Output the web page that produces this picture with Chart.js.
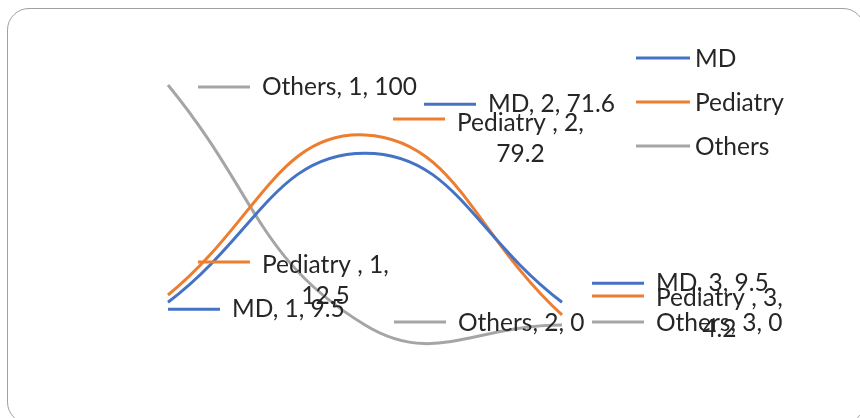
<!DOCTYPE html>
<html>
<head>
<meta charset="utf-8">
<script src="https://cdn.jsdelivr.net/npm/chart.js@4"></script>
<style>
  html, body { margin: 0; padding: 0; background: #fff; }
  #wrap { position: relative; width: 860px; height: 418px; overflow: hidden; }
  #frame { position: absolute; left: 7px; top: 8px; width: 858px; height: 416px;
           border: 1.5px solid #a0a0a0; border-radius: 22px; box-sizing: border-box; }
  canvas { position: absolute; left: 0; top: 0; }
</style>
</head>
<body>
<div id="wrap">
  <div id="frame"></div>
  <canvas id="c" width="860" height="418"></canvas>
</div>
<script>
// ---- data ----
const categories = ['1', '2', '3'];
const mdValues = [9.5, 71.6, 9.5];
const pediatryValues = [12.5, 79.2, 4.2];
const othersValues = [100, 0, 0];
const seriesNames = ['MD', 'Pediatry', 'Others'];
const labelNames = ['MD', 'Pediatry ', 'Others'];

const colors = ['#4472C4', '#ED7D31', '#A5A5A5'];
const FONT = '24.5px Lato';
const TEXT_COLOR = '#262626';

// label placements (relative to the point): leader start dx, leader dy, text dy, wrap
const placements = [
  // MD
  [{dx: 0, ly: 7, ty: 7, wrap: false}, {dx: 59, ly: -49, ty: -49, wrap: false}, {dx: 30, ly: -19, ty: -19, wrap: false}],
  // Pediatry
  [{dx: 30, ly: -33, ty: -30, wrap: true}, {dx: 28, ly: -16, ty: -12, wrap: true}, {dx: 30, ly: -19, ty: -17, wrap: true}],
  // Others
  [{dx: 30, ly: 2, ty: 2, wrap: false}, {dx: 29, ly: -3, ty: -2, wrap: false}, {dx: 30, ly: -3, ty: -2, wrap: false}]
];

const labelPlugin = {
  id: 'excelLabels',
  afterDatasetsDraw(chart) {
    const ctx = chart.ctx;
    ctx.save();
    ctx.font = FONT;
    ctx.textBaseline = 'middle';
    ctx.fillStyle = TEXT_COLOR;
    chart.data.datasets.forEach((ds, di) => {
      const meta = chart.getDatasetMeta(di);
      meta.data.forEach((pt, i) => {
        const p = placements[di][i];
        const x0 = pt.x + p.dx;
        const ly = pt.y + p.ly;
        ctx.strokeStyle = colors[di];
        ctx.lineWidth = 3;
        ctx.beginPath();
        ctx.moveTo(x0, ly);
        ctx.lineTo(x0 + 52, ly);
        ctx.stroke();
        const tx = x0 + 64;
        const ty = pt.y + p.ty;
        const cat = chart.data.labels[i];
        const val = ds.data[i];
        ctx.textAlign = 'left';
        if (p.wrap) {
          const l1 = labelNames[di] + ', ' + cat + ',';
          const w1 = ctx.measureText(l1).width;
          ctx.fillText(l1, tx, ty);
          ctx.textAlign = 'center';
          ctx.fillText(String(val), tx + w1 / 2, ty + 31);
        } else {
          ctx.fillText(labelNames[di] + ', ' + cat + ', ' + val, tx, ty);
        }
      });
    });
    // legend
    const lx = 636, ly0 = 58, step = 44;
    ctx.textAlign = 'left';
    chart.data.datasets.forEach((ds, di) => {
      const y = ly0 + di * step;
      ctx.strokeStyle = colors[di];
      ctx.lineWidth = 3;
      ctx.beginPath();
      ctx.moveTo(lx, y);
      ctx.lineTo(lx + 54, y);
      ctx.stroke();
      ctx.fillStyle = TEXT_COLOR;
      ctx.fillText(ds.label, lx + 59, y + 1);
    });
    ctx.restore();
  }
};

function makeDataset(label, data, color) {
  return {
    label: label,
    data: data,
    borderColor: color,
    backgroundColor: color,
    borderWidth: 3,
    pointRadius: 0,
    fill: false,
    tension: 0.45,
    clip: false
  };
}

document.fonts.load(FONT).finally(() => {
  new Chart(document.getElementById('c'), {
    type: 'line',
    data: {
      labels: categories,
      datasets: [
        makeDataset(seriesNames[0], mdValues, colors[0]),
        makeDataset(seriesNames[1], pediatryValues, colors[1]),
        makeDataset(seriesNames[2], othersValues, colors[2])
      ]
    },
    options: {
      responsive: false,
      animation: false,
      devicePixelRatio: 1,
      layout: { padding: { left: 168, right: 298, top: 85, bottom: 93 } },
      elements: { line: { capBezierPoints: false } },
      scales: {
        x: { type: 'category', offset: false, display: false },
        y: { min: 0, max: 100, display: false }
      },
      plugins: { legend: { display: false }, tooltip: { enabled: false } }
    },
    plugins: [labelPlugin]
  });
});
</script>
</body>
</html>
